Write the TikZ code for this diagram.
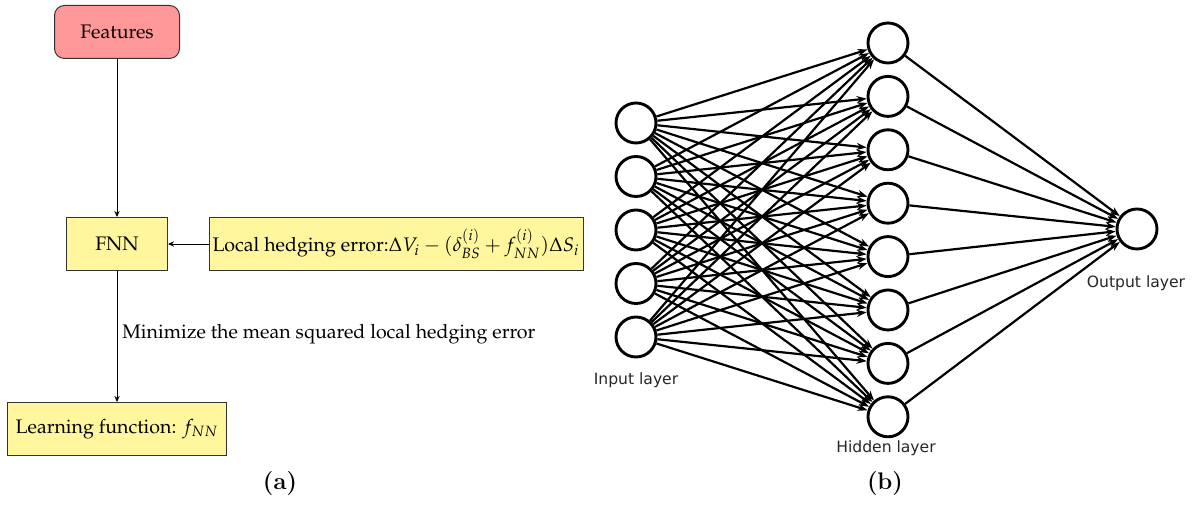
\documentclass[tikz,border=0pt]{standalone}
\usepackage{fontspec}
\newfontfamily\dejavu{DejaVu Sans}
\usepackage[T1]{fontenc}
\usepackage{mathpazo}
\usetikzlibrary{arrows.meta}
\definecolor{featpink}{RGB}{255,153,153}
\definecolor{boxyellow}{RGB}{255,246,158}
\tikzset{
  flowbox/.style={draw=black!80, line width=0.5pt, minimum height=26.5pt, inner xsep=1.5pt, font=\fontsize{9.8}{12}\selectfont},
  featbox/.style={flowbox, fill=featpink, rounded corners=5pt, minimum width=62.5pt},
  yelbox/.style={flowbox, fill=boxyellow},
  flowarrow/.style={line width=0.4pt, -{Stealth[length=3pt,width=2.6pt]}},
  neuron/.style={circle, draw=black, line width=1.45pt, fill=white, minimum size=20pt, inner sep=0pt},
  synapse/.style={line width=1.1pt, -{Stealth[length=5pt,width=3.6pt]}},
  layerlabel/.style={font=\dejavu\fontsize{7.8}{9}\selectfont, text=black!85},
  sublabel/.style={font=\fontsize{12}{14}\usefont{OT1}{cmr}{bx}{n}}
}
\begin{document}
\begin{tikzpicture}[x=0.5pt,y=-0.5pt]
\useasboundingbox (0,0) rectangle (1196,506);
% ---------- panel (a)
\node[featbox] (feat) at (117,32) {Features};
\node[yelbox, minimum width=50.5pt] (fnn) at (117,244) {FNN};
\node[yelbox, minimum width=187pt] (loc) at (396,244) {Local hedging error:$\Delta V_i - (\delta_{BS}^{(i)} + f_{NN}^{(i)})\Delta S_i$};
\node[yelbox, minimum width=109.5pt] (learn) at (117,429) {Learning function: $f_{NN}$};
\draw[flowarrow] (feat) -- (fnn);
\draw[flowarrow] (loc) -- (fnn);
\draw[flowarrow] (fnn) -- node[right, pos=0.485, font=\fontsize{9.8}{12}\selectfont, inner xsep=2.5pt] (minlab) {Minimize the mean squared local hedging error} (learn);
\node[sublabel] (suba) at (280,484) {(a)};
% ---------- panel (b)
\foreach \i [evaluate=\i as \yy using 123+53.5*(\i-1)] in {1,...,5}
  \node[neuron] (in\i) at (636,\yy) {};
\foreach \j [evaluate=\j as \yy using 43+53.4*(\j-1)] in {1,...,8}
  \node[neuron] (hid\j) at (888,\yy) {};
\node[neuron] (out) at (1137,229) {};
\foreach \i in {1,...,5}
  \foreach \j in {1,...,8}
    \draw[synapse] (in\i) -- (hid\j);
\foreach \j in {1,...,8}
  \draw[synapse] (hid\j) -- (out);
\node[layerlabel] (inlab) at (636,380) {Input layer};
\node[layerlabel] (hidlab) at (886,448) {Hidden layer};
\node[layerlabel] (outlab) at (1136,283) {Output layer};
\node[sublabel] (subb) at (885,484) {(b)};
\end{tikzpicture}
\end{document}
